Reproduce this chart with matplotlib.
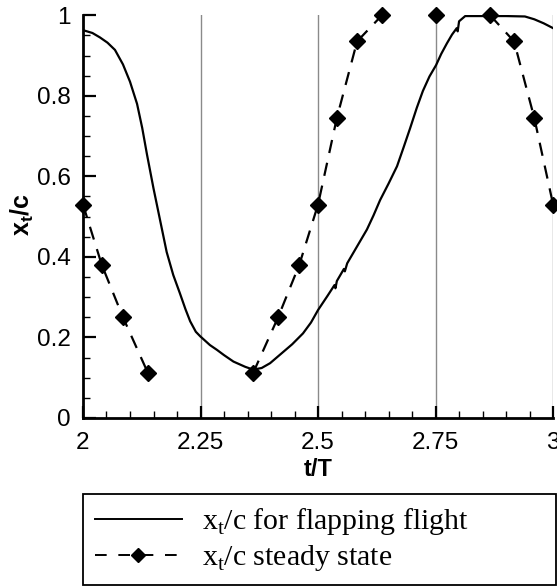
import numpy as np
import matplotlib.pyplot as plt
from matplotlib.ticker import MultipleLocator

# x_t/c during flapping (solid curve)
t_flap = [2.0, 2.02, 2.036, 2.052, 2.068, 2.085, 2.1, 2.115, 2.126, 2.136, 2.15,
          2.164, 2.178, 2.192, 2.206, 2.218, 2.228, 2.24, 2.25, 2.252, 2.27,
          2.285, 2.30, 2.32, 2.345, 2.362, 2.38, 2.398, 2.42, 2.445, 2.468,
          2.485, 2.5, 2.52, 2.535, 2.537, 2.54, 2.555, 2.557, 2.562, 2.574,
          2.59, 2.604, 2.618, 2.632, 2.65, 2.668, 2.682, 2.696, 2.71, 2.723,
          2.737, 2.751, 2.762, 2.774, 2.785, 2.795, 2.797, 2.8, 2.813, 2.85,
          2.9, 2.94, 2.96, 2.98, 3.0]
xt_flap = [0.963, 0.956, 0.945, 0.932, 0.914, 0.878, 0.835, 0.78, 0.72, 0.655,
           0.57, 0.491, 0.412, 0.355, 0.31, 0.27, 0.24, 0.214, 0.202, 0.2,
           0.181, 0.169, 0.156, 0.14, 0.127, 0.12, 0.124, 0.136, 0.158, 0.183,
           0.21, 0.237, 0.268, 0.303, 0.33, 0.322, 0.34, 0.37, 0.364, 0.384,
           0.408, 0.44, 0.468, 0.503, 0.541, 0.582, 0.625, 0.672, 0.72, 0.77,
           0.812, 0.848, 0.876, 0.904, 0.93, 0.952, 0.968, 0.96, 0.985, 0.998,
           0.998, 0.998, 0.997, 0.99, 0.98, 0.968]

# x_t/c in steady state (dashed line with diamonds)
t_steady = [2.0, 2.04, 2.085, 2.138, 2.362, 2.415, 2.46, 2.5, 2.54, 2.583,
            2.636, 2.75, 2.866, 2.917, 2.96, 3.0]
xt_steady = [0.53, 0.38, 0.25, 0.112, 0.112, 0.25, 0.38, 0.53, 0.745, 0.935,
             1.0, 1.0, 1.0, 0.935, 0.745, 0.53]
# dashed line is drawn only within these index ranges
steady_segments = [(0, 3), (4, 10), (12, 15)]

plt.rcParams["font.family"] = ["Liberation Sans", "DejaVu Sans"]

fig = plt.figure(figsize=(5.57, 5.87), dpi=100)
ax = fig.add_axes([0.149, 0.288, 0.844, 0.686])

for xg in [2.25, 2.5, 2.75, 3.0]:
    ax.axvline(xg, color="#8a8a8a", lw=1.0, zorder=1)

ax.plot(t_flap, xt_flap, color="black", lw=1.6, zorder=3)

t_s = np.array(t_steady)
y_s = np.array(xt_steady)
for i0, i1 in steady_segments:
    ax.plot(t_s[i0:i1 + 1], y_s[i0:i1 + 1], color="black", lw=1.6,
            dashes=(6, 4.5), zorder=3)
ax.plot(t_s, y_s, ls="none", marker="D", ms=8.5, color="black",
        zorder=4, clip_on=False)

# legend handles
h1, = ax.plot([], [], color="black", lw=1.4)
h2, = ax.plot([], [], color="black", lw=1.4, dashes=(6, 6), marker="D", ms=7)

ax.set_xlim(2, 3)
ax.set_ylim(0, 1)
ax.xaxis.set_major_locator(MultipleLocator(0.25))
ax.xaxis.set_minor_locator(MultipleLocator(0.05))
ax.yaxis.set_major_locator(MultipleLocator(0.2))
ax.yaxis.set_minor_locator(MultipleLocator(0.05))
ax.set_xticks([2, 2.25, 2.5, 2.75, 3])
ax.set_xticklabels(["2", "2.25", "2.5", "2.75", "3"])
ax.set_yticks([0, 0.2, 0.4, 0.6, 0.8, 1])
ax.set_yticklabels(["0", "0.2", "0.4", "0.6", "0.8", "1"])

ax.spines["top"].set_visible(False)
ax.spines["right"].set_visible(False)
ax.spines["left"].set_linewidth(2)
ax.spines["bottom"].set_linewidth(2)
ax.tick_params(which="major", direction="in", length=9, width=1.6,
               labelsize=17.5)
ax.tick_params(axis="x", which="major", pad=10)
ax.tick_params(axis="y", which="major", pad=9)
ax.tick_params(which="minor", direction="in", length=5, width=1.0)

ax.set_xlabel("t/T", fontsize=17, fontweight="bold", labelpad=3)
ax.set_ylabel(r"x$_\mathregular{t}$/c", fontsize=18, fontweight="bold")
ax.yaxis.set_label_coords(-0.1, 0.505)

leg = fig.legend([h1, h2],
                 [r"x$_\mathregular{t}$/c for flapping flight",
                  r"x$_\mathregular{t}$/c steady state"],
                 loc="lower left", bbox_to_anchor=(0.149, 0.003, 0.849, 0.147),
                 mode="expand", fancybox=False, edgecolor="black",
                 framealpha=1, borderaxespad=0, handlelength=2.9,
                 handletextpad=0.7, labelspacing=0.2, borderpad=0.4,
                 prop={"family": "Liberation Serif", "size": 21.5})
leg.get_frame().set_linewidth(1.3)

fig.savefig("out.png", dpi=100)
